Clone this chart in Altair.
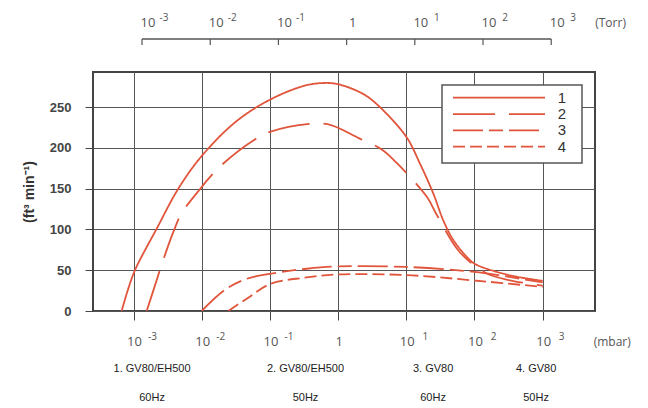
import altair as alt
import pandas as pd

RED = "#e0553b"
TORR_TO_MBAR = 1.33322

# ---- axis tick data ----
mbar_ticks = [1e-3, 1e-2, 1e-1, 1, 1e1, 1e2, 1e3]
torr_ticks = [1e-3, 1e-2, 1e-1, 1, 1e1, 1e2, 1e3]
tick_base = ["10", "10", "10", "1", "10", "10", "10"]
tick_exp = ["-3", "-2", "-1", "", "1", "2", "3"]
y_ticks = [0, 50, 100, 150, 200, 250]

# ---- curves (pressure in mbar, speed in ft3/min) ----
c1_x = [0.00067, 0.0008, 0.00105, 0.00219, 0.00454, 0.01, 0.0316, 0.1, 0.316, 0.607, 1.0, 2.34, 4.1, 10.1, 15.8, 24.9, 34.9, 49.0, 76.9, 100, 211, 417, 1000]
c1_y = [0, 22, 50, 101, 150, 190, 232, 259, 276, 279.5, 278, 266, 250, 213, 181, 144, 111, 87, 66.5, 58, 48, 42, 37]

c2_x = [0.00156, 0.00219, 0.00259, 0.00384, 0.00509, 0.01, 0.0125, 0.0196, 0.0571, 0.1, 0.433, 0.805, 2.0, 4.37, 7.24, 20, 27.3, 55, 86, 151, 316, 1000]
c2_y = [0, 38, 57, 97, 120, 152, 162, 179, 209, 219.5, 229.7, 227.7, 212, 198, 181.5, 140, 119.6, 76.7, 60, 46, 38, 31]

c3_x = [0.01, 0.022, 0.0457, 0.1, 0.347, 1.0, 10, 100, 263, 1000]
c3_y = [0, 26, 39.5, 45.6, 51.8, 54.6, 54, 48, 43, 35]

c4_x = [0.0245, 0.0457, 0.1, 0.309, 1.0, 10, 100, 1000]
c4_y = [0, 15, 33, 40.7, 44.8, 44, 37.4, 29.5]

series_names = ["1", "2", "3", "4"]
series_dash = [[1, 0], [42, 14], [30, 6, 14, 6], [12, 5]]

# ---- model captions below the chart ----
model_labels = ["1. GV80/EH500", "2. GV80/EH500", "3. GV80", "4. GV80"]
model_freq = ["60Hz", "50Hz", "60Hz", "50Hz"]
model_pos_mbar = [0.00187, 0.333, 24.7, 800]

rows = []
for name, xs, ys in zip(series_names, [c1_x, c2_x, c3_x, c4_x], [c1_y, c2_y, c3_y, c4_y]):
    for i, (a, b) in enumerate(zip(xs, ys)):
        rows.append({"series": name, "p": a, "s": b, "i": i})
curves = pd.DataFrame(rows)

xscale = alt.Scale(type="log", domain=[10 ** -3.594, 10 ** 3.767], nice=False)
yscale = alt.Scale(domain=[0, 293], nice=False, zero=False)
xaxis = alt.Axis(values=mbar_ticks, labels=False, title=None, grid=True,
                 tickSize=9, tickColor="#444", tickWidth=1,
                 gridColor="#555", gridWidth=1, domain=False)
X_AX = dict(scale=xscale, axis=xaxis)
dash_scale = alt.Scale(domain=series_names, range=series_dash)

lines = alt.Chart(curves).mark_line(
    interpolate="catmull-rom", strokeWidth=1.8, color=RED, clip=True
).encode(
    x=alt.X("p:Q", **X_AX),
    y=alt.Y("s:Q", scale=yscale,
            axis=alt.Axis(values=y_ticks, title="(ft³ min⁻¹)", grid=True,
                          tickSize=8, tickColor="#444", gridColor="#555", gridWidth=1,
                          domain=False, labelFont="Liberation Sans Narrow, Liberation Sans",
                          labelFontSize=13, labelFontWeight="bold", labelColor="#444",
                          labelPadding=14, titleFont="Liberation Sans", titleFontSize=14,
                          titleFontWeight="bold", titleColor="#333", titlePadding=13)),
    strokeDash=alt.StrokeDash("series:N", scale=dash_scale, legend=None),
    order="i:Q",
)

ticks_df = pd.DataFrame({
    "mbar": mbar_ticks,
    "torr_mbar": [t * TORR_TO_MBAR for t in torr_ticks],
    "base": tick_base,
    "exp": tick_exp,
})

# top (Torr) axis
top_line = alt.Chart(pd.DataFrame({
    "a": [torr_ticks[0] * TORR_TO_MBAR], "b": [torr_ticks[-1] * TORR_TO_MBAR]
})).mark_rule(color="#555", strokeWidth=1.5).encode(
    x=alt.X("a:Q", **X_AX), x2="b:Q", y=alt.value(-33)
)
top_ticks = alt.Chart(ticks_df).mark_rule(color="#555", strokeWidth=1.2).encode(
    x=alt.X("torr_mbar:Q", **X_AX), y=alt.value(-33), y2=alt.value(-27)
)
top_base = alt.Chart(ticks_df).mark_text(
    font="Open Sans", fontSize=13, color="#555", dx=6, align="center", baseline="middle"
).encode(x=alt.X("torr_mbar:Q", **X_AX), y=alt.value(-49), text="base:N")
top_exp = alt.Chart(ticks_df).mark_text(
    font="Open Sans", fontSize=10, color="#555", dx=22, align="center", baseline="middle"
).encode(x=alt.X("torr_mbar:Q", **X_AX), y=alt.value(-54), text="exp:N")

# bottom (mbar) labels
bot_base = alt.Chart(ticks_df).mark_text(
    font="Open Sans", fontSize=13, color="#555", dx=1, align="center", baseline="middle"
).encode(x=alt.X("mbar:Q", **X_AX), y=alt.value(270), text="base:N")
bot_exp = alt.Chart(ticks_df).mark_text(
    font="Open Sans", fontSize=10, color="#555", dx=19, align="center", baseline="middle"
).encode(x=alt.X("mbar:Q", **X_AX), y=alt.value(265), text="exp:N")

unit_torr = alt.Chart(pd.DataFrame({"x": [torr_ticks[-1] * TORR_TO_MBAR], "t": ["(Torr)"]})).mark_text(
    font="Open Sans", fontSize=12, color="#555", dx=44, align="left", baseline="middle"
).encode(x=alt.X("x:Q", **X_AX), y=alt.value(-49), text="t:N")
unit_mbar = alt.Chart(pd.DataFrame({"x": [mbar_ticks[-1]], "t": ["(mbar)"]})).mark_text(
    font="Open Sans", fontSize=12, color="#555", dx=51, align="left", baseline="middle"
).encode(x=alt.X("x:Q", **X_AX), y=alt.value(270), text="t:N")

models_df = pd.DataFrame({"x": model_pos_mbar, "name": model_labels, "hz": model_freq})
model_txt = alt.Chart(models_df).mark_text(
    font="Liberation Sans", fontSize=11, color="#222", align="center", baseline="middle"
).encode(x=alt.X("x:Q", **X_AX), y=alt.value(297), text="name:N")
hz_txt = alt.Chart(models_df).mark_text(
    font="Liberation Sans", fontSize=11, color="#222", align="center", baseline="middle"
).encode(x=alt.X("x:Q", **X_AX), y=alt.value(326), text="hz:N")

# ---- legend (box, line samples, labels) ----
legend_df = pd.DataFrame({"series": series_names})
leg_y = alt.Y("series:N", scale=alt.Scale(type="point", domain=series_names,
                                          range=[25.7, 74.7], padding=0), axis=None)
leg_box = alt.Chart(pd.DataFrame({"k": [0]})).mark_rect(
    fill="white", stroke="#555", strokeWidth=1.5
).encode(x=alt.value(349), x2=alt.value(489), y=alt.value(13), y2=alt.value(91))
leg_lines = alt.Chart(legend_df).mark_rule(color=RED, strokeWidth=1.8).encode(
    x=alt.value(360), x2=alt.value(452), y=leg_y,
    strokeDash=alt.StrokeDash("series:N", scale=dash_scale, legend=None),
)
leg_text = alt.Chart(legend_df).mark_text(
    font="Liberation Sans", fontSize=15, color="#333", align="center", baseline="middle"
).encode(x=alt.value(469), y=leg_y, text="series:N")

chart = alt.layer(
    lines, top_line, top_ticks, top_base, top_exp, bot_base, bot_exp,
    unit_torr, unit_mbar, model_txt, hz_txt, leg_box, leg_lines, leg_text
).resolve_scale(y="independent").properties(
    width=502, height=239,
    padding={"left": 85, "top": 64, "right": 45, "bottom": 95},
    autosize=alt.AutoSizeParams(type="none"),
    background="white",
).configure_view(stroke="#444", strokeWidth=2)

chart.save("out.html", embed_options={"renderer": "svg", "actions": False})
